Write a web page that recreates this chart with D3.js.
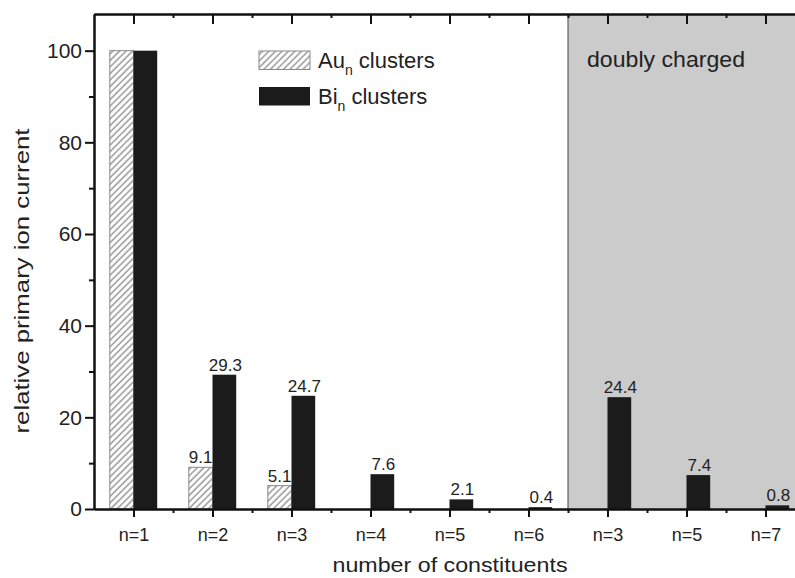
<!DOCTYPE html>
<html>
<head>
<meta charset="utf-8">
<script src="https://cdn.jsdelivr.net/npm/d3@7"></script>
<style>
  html, body { margin: 0; padding: 0; background: #fff; }
  svg { display: block; font-family: "Liberation Sans", Arial, Helvetica, sans-serif; }
</style>
</head>
<body>
<svg id="chart" width="795" height="578"></svg>
<script>
// ---- data ----
const categories = ["n=1", "n=2", "n=3", "n=4", "n=5", "n=6", "n=3", "n=5", "n=7"];
const auValues = [100, 9.1, 5.1, null, null, null, null, null, null];
const biValues = [100, 29.3, 24.7, 7.6, 2.1, 0.4, 24.4, 7.4, 0.8];
const auLabels = ["", "9.1", "5.1", "", "", "", "", "", ""];
const biLabels = ["", "29.3", "24.7", "7.6", "2.1", "0.4", "24.4", "7.4", "0.8"];
const yTicks = [0, 20, 40, 60, 80, 100];
const yMinorTicks = [10, 30, 50, 70, 90];
const doublyStartIndex = 6;
const legendLabels = [{ base: "Au", sub: "n", rest: " clusters" }, { base: "Bi", sub: "n", rest: " clusters" }];
const regionLabel = "doubly charged";
const xTitle = "number of constituents";
const yTitle = "relative primary ion current";

// ---- layout ----
const svg = d3.select("#chart");
const L = 94, R = 805, T = 14, B = 509;
const x = d3.scaleLinear().domain([-0.5, categories.length - 0.5]).range([L, R]);
const y = d3.scaleLinear().domain([0, 108]).range([B, T]);
const step = x(1) - x(0);
const barW = step * 0.3;
const textColor = "#222";
const barColor = "#1b1b1b";

// hatch pattern
const defs = svg.append("defs");
const pat = defs.append("pattern")
  .attr("id", "hatch").attr("patternUnits", "userSpaceOnUse")
  .attr("width", 4.6).attr("height", 10)
  .attr("patternTransform", "rotate(45)");
pat.append("rect").attr("width", 4.6).attr("height", 10).attr("fill", "#fff");
pat.append("line").attr("x1", 1).attr("y1", 0).attr("x2", 1).attr("y2", 10)
  .attr("stroke", "#666").attr("stroke-width", 1);

// shaded region
svg.append("rect")
  .attr("x", x(doublyStartIndex - 0.5)).attr("y", T)
  .attr("width", x(categories.length - 0.5) - x(doublyStartIndex - 0.5))
  .attr("height", B - T)
  .attr("fill", "#cbcbcb");
svg.append("line")
  .attr("x1", x(doublyStartIndex - 0.5)).attr("x2", x(doublyStartIndex - 0.5))
  .attr("y1", T).attr("y2", B)
  .attr("stroke", "#444").attr("stroke-width", 1);

svg.append("text")
  .attr("x", 587).attr("y", 67)
  .attr("font-size", 22).attr("fill", textColor)
  .attr("textLength", 158).attr("lengthAdjust", "spacingAndGlyphs")
  .text(regionLabel);

// bars
const idx = d3.range(categories.length);
svg.append("g").selectAll("rect")
  .data(idx.filter(i => auValues[i] != null))
  .join("rect")
  .attr("x", i => x(i) - barW).attr("y", i => y(auValues[i]))
  .attr("width", barW).attr("height", i => y(0) - y(auValues[i]))
  .attr("fill", "url(#hatch)").attr("stroke", "#8a8a8a").attr("stroke-width", 1);

svg.append("g").selectAll("rect")
  .data(idx.filter(i => biValues[i] != null))
  .join("rect")
  .attr("x", i => x(i)).attr("y", i => y(biValues[i]))
  .attr("width", barW).attr("height", i => y(0) - y(biValues[i]))
  .attr("fill", barColor);

// value labels
svg.append("g").selectAll("text")
  .data(idx.filter(i => auLabels[i]))
  .join("text")
  .attr("x", i => x(i) - barW / 2).attr("y", i => y(auValues[i]) - 4)
  .attr("text-anchor", "middle").attr("font-size", 17).attr("fill", textColor)
  .text(i => auLabels[i]);
svg.append("g").selectAll("text")
  .data(idx.filter(i => biLabels[i]))
  .join("text")
  .attr("x", i => x(i) + barW / 2 + 1).attr("y", i => y(biValues[i]) - 4)
  .attr("text-anchor", "middle").attr("font-size", 17).attr("fill", textColor)
  .text(i => biLabels[i]);

// axes
const axisStroke = 2;
function styleAxis(g) {
  g.select(".domain").attr("stroke", "#111").attr("stroke-width", axisStroke);
  g.selectAll(".tick line").attr("stroke", "#111").attr("stroke-width", 2);
  g.selectAll(".tick text").attr("fill", textColor).attr("font-family", "Liberation Sans, Arial, sans-serif");
}
// bottom major
const gx = svg.append("g").attr("transform", `translate(0,${B})`)
  .call(d3.axisBottom(x).tickValues(idx).tickFormat(i => categories[i])
    .tickSizeInner(8).tickSizeOuter(0).tickPadding(11));
styleAxis(gx);
gx.selectAll(".tick text").attr("font-size", 18);
// bottom minor
const gxm = svg.append("g").attr("transform", `translate(0,${B})`)
  .call(d3.axisBottom(x).tickValues(idx.map(i => i + 0.5)).tickFormat("")
    .tickSizeInner(4).tickSizeOuter(0));
styleAxis(gxm);
// top major
const gt = svg.append("g").attr("transform", `translate(0,${T})`)
  .call(d3.axisTop(x).tickValues(idx).tickFormat("").tickSizeInner(-10).tickSizeOuter(0));
styleAxis(gt);
const gtm = svg.append("g").attr("transform", `translate(0,${T})`)
  .call(d3.axisTop(x).tickValues(idx.map(i => i + 0.5)).tickFormat("").tickSizeInner(-4).tickSizeOuter(0));
styleAxis(gtm);
// left
const gy = svg.append("g").attr("transform", `translate(${L},0)`)
  .call(d3.axisLeft(y).tickValues(yTicks).tickSizeInner(9).tickSizeOuter(0).tickPadding(3));
styleAxis(gy);
gy.selectAll(".tick text").attr("font-size", 21);
const gym = svg.append("g").attr("transform", `translate(${L},0)`)
  .call(d3.axisLeft(y).tickValues(yMinorTicks).tickFormat("").tickSizeInner(5).tickSizeOuter(0));
styleAxis(gym);

// axis titles
svg.append("text")
  .attr("x", 450).attr("y", 572)
  .attr("text-anchor", "middle").attr("font-size", 21).attr("fill", textColor)
  .attr("textLength", 235).attr("lengthAdjust", "spacingAndGlyphs")
  .text(xTitle);
svg.append("text")
  .attr("transform", "translate(29,281) rotate(-90)")
  .attr("text-anchor", "middle").attr("font-size", 21).attr("fill", textColor)
  .attr("textLength", 305).attr("lengthAdjust", "spacingAndGlyphs")
  .text(yTitle);

// legend
const legendFills = ["url(#hatch)", barColor];
const legendStrokes = ["#8a8a8a", "none"];
const legendY = [51, 87];
legendLabels.forEach((d, k) => {
  svg.append("rect")
    .attr("x", 259).attr("y", legendY[k]).attr("width", 51).attr("height", 18.5)
    .attr("fill", legendFills[k]).attr("stroke", legendStrokes[k]).attr("stroke-width", 1);
  const t = svg.append("text")
    .attr("x", 318).attr("y", legendY[k] + 17)
    .attr("font-size", 22).attr("fill", textColor);
  t.append("tspan").text(d.base);
  t.append("tspan").attr("dy", 7).attr("font-size", 14).text(d.sub);
  t.append("tspan").attr("dy", -7).text(d.rest);
});
</script>
</body>
</html>
